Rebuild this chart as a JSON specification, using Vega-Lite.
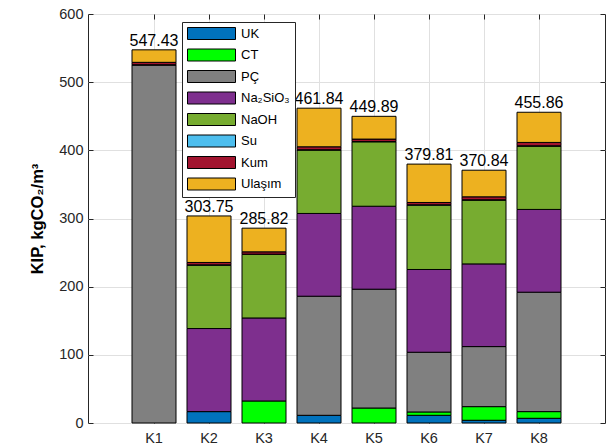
{
  "$schema": "https://vega.github.io/schema/vega-lite/v6.json",
  "width": 517,
  "height": 409,
  "autosize": {"type": "none"},
  "padding": {"left": 88, "top": 14, "right": 1, "bottom": 22},
  "config": {
    "font": "Liberation Sans",
    "view": {"stroke": "#262626", "strokeWidth": 1}
  },
  "datasets": {
    "parts": [
      {"K": "K1", "comp": "PÇ", "v": 525.1},
      {"K": "K1", "comp": "Su", "v": 0.5},
      {"K": "K1", "comp": "Kum", "v": 3.5},
      {"K": "K1", "comp": "Ulaşım", "v": 18.33},
      {"K": "K2", "comp": "UK", "v": 16.7},
      {"K": "K2", "comp": "Na₂SiO₃", "v": 121.9},
      {"K": "K2", "comp": "NaOH", "v": 92.9},
      {"K": "K2", "comp": "Su", "v": 0.5},
      {"K": "K2", "comp": "Kum", "v": 3.5},
      {"K": "K2", "comp": "Ulaşım", "v": 68.25},
      {"K": "K3", "comp": "CT", "v": 32.3},
      {"K": "K3", "comp": "Na₂SiO₃", "v": 121.8},
      {"K": "K3", "comp": "NaOH", "v": 93.1},
      {"K": "K3", "comp": "Su", "v": 0.5},
      {"K": "K3", "comp": "Kum", "v": 3.4},
      {"K": "K3", "comp": "Ulaşım", "v": 34.72},
      {"K": "K4", "comp": "UK", "v": 11.3},
      {"K": "K4", "comp": "PÇ", "v": 174.7},
      {"K": "K4", "comp": "Na₂SiO₃", "v": 121.4},
      {"K": "K4", "comp": "NaOH", "v": 93.0},
      {"K": "K4", "comp": "Su", "v": 0.5},
      {"K": "K4", "comp": "Kum", "v": 4.3},
      {"K": "K4", "comp": "Ulaşım", "v": 56.64},
      {"K": "K5", "comp": "CT", "v": 22.0},
      {"K": "K5", "comp": "PÇ", "v": 174.3},
      {"K": "K5", "comp": "Na₂SiO₃", "v": 121.7},
      {"K": "K5", "comp": "NaOH", "v": 94.5},
      {"K": "K5", "comp": "Su", "v": 0.5},
      {"K": "K5", "comp": "Kum", "v": 3.5},
      {"K": "K5", "comp": "Ulaşım", "v": 33.39},
      {"K": "K6", "comp": "UK", "v": 11.3},
      {"K": "K6", "comp": "CT", "v": 4.9},
      {"K": "K6", "comp": "PÇ", "v": 87.6},
      {"K": "K6", "comp": "Na₂SiO₃", "v": 121.4},
      {"K": "K6", "comp": "NaOH", "v": 94.4},
      {"K": "K6", "comp": "Su", "v": 0.5},
      {"K": "K6", "comp": "Kum", "v": 3.4},
      {"K": "K6", "comp": "Ulaşım", "v": 56.31},
      {"K": "K7", "comp": "UK", "v": 4.0},
      {"K": "K7", "comp": "CT", "v": 20.0},
      {"K": "K7", "comp": "PÇ", "v": 88.1},
      {"K": "K7", "comp": "Na₂SiO₃", "v": 121.3},
      {"K": "K7", "comp": "NaOH", "v": 93.6},
      {"K": "K7", "comp": "Su", "v": 0.5},
      {"K": "K7", "comp": "Kum", "v": 4.3},
      {"K": "K7", "comp": "Ulaşım", "v": 39.04},
      {"K": "K8", "comp": "UK", "v": 6.9},
      {"K": "K8", "comp": "CT", "v": 9.8},
      {"K": "K8", "comp": "PÇ", "v": 175.2},
      {"K": "K8", "comp": "Na₂SiO₃", "v": 121.4},
      {"K": "K8", "comp": "NaOH", "v": 92.9},
      {"K": "K8", "comp": "Su", "v": 0.5},
      {"K": "K8", "comp": "Kum", "v": 4.9},
      {"K": "K8", "comp": "Ulaşım", "v": 44.26}
    ],
    "totals": [
      {"K": "K1", "total": 547.43},
      {"K": "K2", "total": 303.75},
      {"K": "K3", "total": 285.82},
      {"K": "K4", "total": 461.84},
      {"K": "K5", "total": 449.89},
      {"K": "K6", "total": 379.81},
      {"K": "K7", "total": 370.84},
      {"K": "K8", "total": 455.86}
    ]
  },
  "resolve": {"axis": {"x": "independent", "y": "independent"}},
  "layer": [
    {
      "data": {"name": "parts"},
      "transform": [
        {"calculate": "indexof(['UK', 'CT', 'PÇ', 'Na₂SiO₃', 'NaOH', 'Su', 'Kum', 'Ulaşım'], datum.comp)", "as": "stackOrder"}
      ],
      "mark": {"type": "bar", "stroke": "black", "strokeWidth": 1},
      "encoding": {
        "x": {
          "field": "K", "type": "nominal",
          "scale": {"paddingInner": 0.2, "paddingOuter": 0.8},
          "axis": {
            "orient": "bottom", "title": null, "labelAngle": 0,
            "labelFontSize": 14.5, "labelColor": "#262626", "labelPadding": 13,
            "tickSize": -5, "tickColor": "#262626", "domain": false,
            "grid": true, "gridColor": "#e0e0e0"
          }
        },
        "y": {
          "field": "v", "type": "quantitative", "stack": "zero",
          "scale": {"domain": [0, 600], "nice": false},
          "axis": {
            "orient": "left", "values": [0, 100, 200, 300, 400, 500, 600],
            "title": "KIP, kgCO₂/m³", "titleFontSize": 16.5, "titleFontWeight": "bold",
            "titleColor": "black", "titlePadding": 13,
            "labelFontSize": 14.5, "labelColor": "#262626", "labelPadding": 10,
            "tickSize": -5, "tickColor": "#262626", "domain": false,
            "grid": true, "gridColor": "#e0e0e0"
          }
        },
        "order": {"field": "stackOrder", "type": "quantitative", "sort": "ascending"},
        "color": {
          "field": "comp", "type": "nominal",
          "sort": ["UK", "CT", "PÇ", "Na₂SiO₃", "NaOH", "Su", "Kum", "Ulaşım"],
          "scale": {
            "domain": ["UK", "CT", "PÇ", "Na₂SiO₃", "NaOH", "Su", "Kum", "Ulaşım"],
            "range": ["#0072BD", "#00FF00", "#808080", "#7E2F8E", "#77AC30", "#4DBEEE", "#A2142F", "#EDB120"]
          },
          "legend": {
            "orient": "none", "legendX": 94, "legendY": 8, "title": null,
            "symbolType": "M-1,-1H7V1H-1Z", "symbolSize": 144,
            "symbolStrokeColor": "black", "symbolStrokeWidth": 1, "symbolOpacity": 1,
            "labelOffset": 41, "labelFontSize": 13, "labelColor": "black",
            "rowPadding": 4.5, "padding": 5,
            "strokeColor": "#262626", "fillColor": "white", "cornerRadius": 0
          }
        }
      }
    },
    {
      "data": {"name": "totals"},
      "mark": {"type": "text", "fontSize": 16, "baseline": "alphabetic", "dy": -4, "color": "black"},
      "encoding": {
        "x": {
          "field": "K", "type": "nominal",
          "axis": {"orient": "top", "title": null, "labels": false, "tickSize": -5, "tickColor": "#262626", "domain": false, "grid": false}
        },
        "y": {
          "field": "total", "type": "quantitative",
          "axis": {"orient": "right", "title": null, "labels": false, "values": [0, 100, 200, 300, 400, 500, 600], "tickSize": -5, "tickColor": "#262626", "domain": false, "grid": false}
        },
        "text": {"field": "total", "type": "quantitative", "format": ".2f"}
      }
    }
  ]
}
